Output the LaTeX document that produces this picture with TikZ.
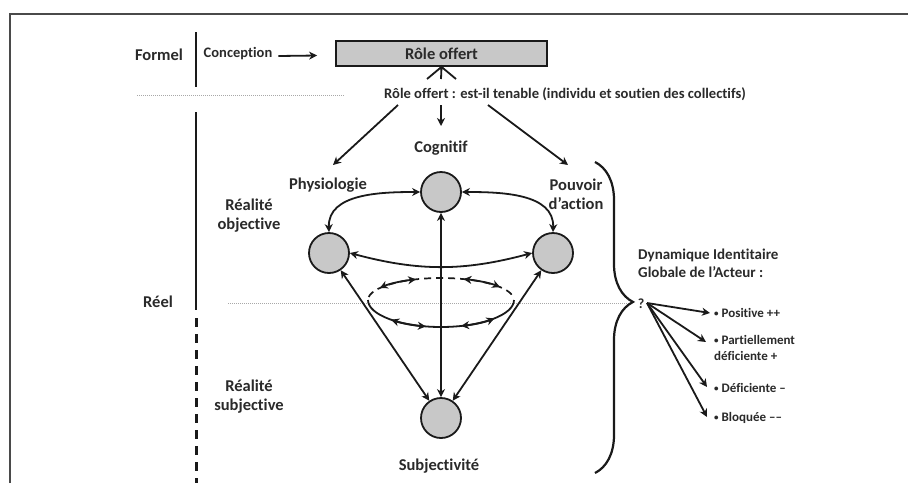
\documentclass[tikz,border=0pt]{standalone}
\usepackage{fontspec}
\setmainfont{Carlito}[Ligatures={NoCommon}]
\usetikzlibrary{arrows.meta,decorations.pathreplacing,calc}
\definecolor{txt}{HTML}{2A2A2A}
\definecolor{ln}{HTML}{1A1A1A}
\definecolor{fillg}{HTML}{C8C8C8}
\definecolor{dotg}{HTML}{A8A8A8}
\definecolor{frm}{HTML}{4A4A4A}
\begin{document}
\begin{tikzpicture}[x=1pt,y=1pt,
  tip/.style={-{Stealth[length=8pt,width=8pt,inset=2.5pt]}},
  dtip/.style={{Stealth[length=8pt,width=8pt,inset=2.5pt]}-{Stealth[length=8pt,width=8pt,inset=2.5pt]}},
  lab/.style={font=\bfseries\fontsize{16.5}{19}\selectfont,text=txt,inner sep=0pt,align=center},
  mid/.style={font=\bfseries\fontsize{15}{18}\selectfont,text=txt,inner sep=0pt,align=left},
  bul/.style={font=\bfseries\fontsize{13}{16}\selectfont,text=txt,inner sep=0pt,anchor=west,align=left},
  ball/.style={circle,draw=ln,fill=fillg,line width=1.8pt,minimum size=40pt,inner sep=0pt},
  conn/.style={draw=ln,line width=1.8pt},
  dotline/.style={draw=dotg,line width=1pt,dash pattern=on 1pt off 1pt},
]
\newcommand{\sbul}{{\fontsize{9}{9}\selectfont\raisebox{0.25ex}{•}}}
\useasboundingbox (0,0) rectangle (908,-483);
\fill[white] (0,0) rectangle (908,-483);
% frame
\draw[frm,line width=2.5pt] (10,-483) -- (10,-14) -- (908,-14);

% top part
\node[lab] (formel) at (159,-55) {Formel};
\draw[ln,line width=1.8pt] (196,-32) -- (196,-87);
\node[font=\bfseries\fontsize{14.5}{16}\selectfont,text=txt,inner sep=0pt] (conc) at (238,-54) {Conception};
\node[draw=ln,fill=fillg,line width=1.8pt,minimum width=211pt,minimum height=25pt,inner sep=0pt,font=\bfseries\fontsize{16.5}{19}\selectfont,text=txt] (box) at (441.5,-53.5) {Rôle offert};
\draw[conn,tip] ($(conc.east)+(6,-2)$) -- ($(box.west)+(-18,-2)$);

% fan under the box
\coordinate (f1) at (427,-79);
\coordinate (f2) at (441,-79);
\coordinate (f3) at (456,-79);
\draw[conn] (f1) -- (box.south) (f2) -- (box.south) (f3) -- (box.south);
\fill[ln] (box.south) circle (2pt);

\node[font=\bfseries\fontsize{14.6}{17}\selectfont,text=txt,inner sep=0pt] (q) at (565,-94) {Rôle offert : est-il tenable (individu et soutien des collectifs)};
\draw[dotline] (137,-95) -- (345,-95);

\coordinate (qa) at (398,-105);
\coordinate (qb) at (441,-105);
\coordinate (qc) at (488,-105);
\coordinate (pa) at (333,-165);
\coordinate (pb) at (441,-126);
\coordinate (pc) at (568,-165);

% left column
\draw[ln,line width=1.9pt] (196,-112) -- (196,-310);
\draw[ln,line width=3pt,dash pattern=on 9pt off 7pt] (196,-318) -- (196,-483);
\node[lab] (reel) at (158,-302) {Réel};
\node[lab] (robj) at (249,-215.5) {Réalité\\objective};
\node[lab] (rsub) at (249,-397) {Réalité\\subjective};

% labels
\node[lab] (cog) at (441,-148) {Cognitif};
\node[lab] (phys) at (328,-185) {Physiologie};
\node[lab] (pouv) at (576,-194.5) {Pouvoir\\d’action};
\node[lab] (subj) at (439,-466) {Subjectivité};

% arrows from question
\draw[conn,tip] (qa) -- (pa);
\draw[conn,tip] (qb) -- (pb);
\draw[conn,tip] (qc) -- (pc);

% middle dotted line
\draw[dotline] (228,-303) -- (630,-303);

% circles
\node[ball] (T) at (441,-192) {};
\node[ball] (L) at (329,-253) {};
\node[ball] (R) at (553,-253) {};
\node[ball] (B) at (441,-418) {};

% links
\draw[conn,dtip] (L.north) to[out=92,in=180] (T.west);
\draw[conn,dtip] (T.east) to[out=0,in=88] (R.north);
\draw[conn,dtip] (L.east) to[out=-15,in=195] (R.west);
\draw[conn,dtip] (L) -- (B);
\draw[conn,dtip] (R) -- (B);
\draw[conn,dtip] (T) -- (B);

% ellipse
\coordinate (E) at (441,-300);
\draw[ln,line width=1.7pt,dash pattern=on 7pt off 5pt] ($(E)+(172:73 and 22)$) arc[start angle=172,end angle=8,x radius=73,y radius=22];
\draw[conn] ($(E)+(180:73 and 27)$) arc[start angle=180,end angle=360,x radius=73,y radius=27];
\draw[conn,dtip] ($(E)+(147:73 and 22)$) arc[start angle=147,end angle=110,x radius=73,y radius=22];
\draw[conn,dtip] ($(E)+(72:73 and 22)$) arc[start angle=72,end angle=36,x radius=73,y radius=22];
\draw[conn,dtip] ($(E)+(227:73 and 27)$) arc[start angle=227,end angle=258,x radius=73,y radius=27];
\draw[conn,dtip] ($(E)+(286:73 and 27)$) arc[start angle=286,end angle=317,x radius=73,y radius=27];

% brace
\draw[ln,line width=2.2pt,decorate,decoration={brace,amplitude=38pt,aspect=0.45}] (595,-162) -- (595,-473);

% right side
\node[mid,anchor=west] (dyn) at (638,-263) {Dynamique Identitaire\\Globale de l’Acteur :};
\node[font=\bfseries\fontsize{14}{15}\selectfont,text=txt,inner sep=0pt] (qm) at (641,-304) {?};
\coordinate (qs) at (647,-303);
\coordinate (a1) at (710,-313);
\coordinate (a2) at (706,-342);
\coordinate (a3) at (707,-387);
\coordinate (a4) at (707,-417);
\draw[conn,tip] (qs) -- (a1);
\draw[conn,tip] (qs) -- (a2);
\draw[conn,tip] (qs) -- (a3);
\draw[conn,tip] (qs) -- (a4);
\node[bul] (b1) at (714,-313) {\sbul{} Positive ++};
\node[bul,anchor=north west] (b2) at (714,-335) {\sbul{} Partiellement\\déficiente +};
\node[bul] (b3) at (714,-388) {\sbul{} Déficiente –};
\node[bul] (b4) at (714,-418) {\sbul{} Bloquée ––};
\end{tikzpicture}
\end{document}
